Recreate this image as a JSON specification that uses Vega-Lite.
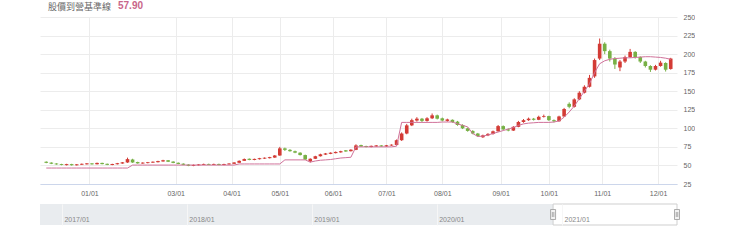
{
"$schema":"https://vega.github.io/schema/vega-lite/v6.json",
"padding":{"left":40,"right":0,"top":1,"bottom":0},
"background":"white",
"config":{"view":{"stroke":null},"font":"Liberation Sans","axis":{"labelOverlap":false,"labelSeparation":0},"axisY":{"labelOverlap":false}},
"title":{"text":"股價到營基準線","anchor":"start","dx":8,"dy":11,"fontSize":9,"font":"Noto Sans CJK TC","fontWeight":"normal","color":"#666666","offset":0},
"spacing":7,
"vconcat":[
{
"width":637,"height":167,
"title":{"text":"57.90","anchor":"start","dx":78,"offset":2,"fontSize":10,"fontWeight":"bold","color":"#c9668a","font":"Liberation Sans"},
"data":{"values":[
{"d":1,"o":55,"h":55.5,"l":53,"c":53.5,"b":46.5},
{"d":3,"o":53.8,"h":54.2,"l":51.8,"c":52.3,"b":46.5},
{"d":5,"o":52.6,"h":53,"l":51,"c":51.4,"b":46.5},
{"d":7,"o":51.8,"h":52.2,"l":50.2,"c":50.6,"b":46.5},
{"d":9,"o":50.4,"h":52.2,"l":50,"c":51.8,"b":46.5},
{"d":11,"o":51.8,"h":52.2,"l":49.8,"c":50.3,"b":46.5},
{"d":13,"o":50.2,"h":51.9,"l":49.9,"c":51.5,"b":46.5},
{"d":15,"o":51,"h":52.6,"l":50.6,"c":52.2,"b":46.5},
{"d":17,"o":51.5,"h":53.2,"l":51.2,"c":52.8,"b":46.5},
{"d":19,"o":52.8,"h":53.2,"l":51.1,"c":51.5,"b":46.5},
{"d":21,"o":51.6,"h":53.8,"l":51.3,"c":53.4,"b":46.5},
{"d":23,"o":53.4,"h":53.7,"l":51.5,"c":51.8,"b":46.5},
{"d":25,"o":52.2,"h":52.5,"l":50.4,"c":50.8,"b":46.5},
{"d":27,"o":50.6,"h":52.3,"l":50.3,"c":51.9,"b":46.5},
{"d":29,"o":51.6,"h":53.4,"l":51.3,"c":53,"b":46.5},
{"d":31,"o":52.6,"h":54.6,"l":52.3,"c":54.2,"b":46.5},
{"d":33,"o":54,"h":60.5,"l":53.5,"c":58.5,"b":46.5},
{"d":35,"o":58,"h":59,"l":53.5,"c":54,"b":50.5},
{"d":37,"o":54.6,"h":55,"l":52.4,"c":52.8,"b":50.5},
{"d":39,"o":52.6,"h":54.2,"l":52.3,"c":53.8,"b":50.5},
{"d":41,"o":53.2,"h":54.7,"l":52.8,"c":54.3,"b":50.5},
{"d":43,"o":53.8,"h":55.4,"l":53.4,"c":55,"b":50.5},
{"d":45,"o":54.4,"h":56.3,"l":54,"c":55.9,"b":50.5},
{"d":47,"o":55.4,"h":57.6,"l":55,"c":57,"b":50.5},
{"d":49,"o":57,"h":57.3,"l":54.6,"c":55,"b":50.5},
{"d":51,"o":55.2,"h":55.6,"l":53,"c":53.4,"b":50.5},
{"d":53,"o":53.6,"h":54,"l":51.6,"c":52,"b":50.5},
{"d":55,"o":52.4,"h":52.8,"l":50.4,"c":50.8,"b":50.5},
{"d":57,"o":51.2,"h":51.6,"l":49,"c":49.4,"b":50.5},
{"d":59,"o":49.4,"h":51.2,"l":49,"c":50.8,"b":50.5},
{"d":61,"o":50.2,"h":51.8,"l":49.9,"c":51.4,"b":50.5},
{"d":63,"o":50.8,"h":52.4,"l":50.5,"c":52,"b":50.5},
{"d":65,"o":52,"h":52.4,"l":50.5,"c":50.8,"b":50.5},
{"d":67,"o":50.8,"h":52.4,"l":50.5,"c":52,"b":50.5},
{"d":69,"o":52,"h":52.4,"l":50.3,"c":50.6,"b":50.5},
{"d":71,"o":50.6,"h":52.3,"l":50.3,"c":51.9,"b":50.5},
{"d":73,"o":51.4,"h":53,"l":51.1,"c":52.6,"b":50.5},
{"d":75,"o":52.2,"h":54.4,"l":52,"c":54,"b":50.5},
{"d":77,"o":53.6,"h":56.8,"l":53.4,"c":56.2,"b":52},
{"d":79,"o":56.2,"h":59.4,"l":56,"c":58.6,"b":52},
{"d":81,"o":59,"h":59.4,"l":57,"c":57.4,"b":52},
{"d":83,"o":57.4,"h":59.2,"l":57,"c":58.8,"b":52},
{"d":85,"o":58.4,"h":60.2,"l":58,"c":59.8,"b":52},
{"d":87,"o":59.2,"h":60.8,"l":58.8,"c":60.4,"b":52},
{"d":89,"o":59.8,"h":61.6,"l":59.4,"c":61.2,"b":52},
{"d":91,"o":60.6,"h":64,"l":60.2,"c":63.4,"b":52},
{"d":93,"o":63.4,"h":75,"l":63,"c":73,"b":52},
{"d":95,"o":73,"h":74,"l":69.5,"c":71,"b":57.5},
{"d":97,"o":71,"h":72,"l":68.5,"c":69.2,"b":57.5},
{"d":99,"o":69.2,"h":70,"l":66.5,"c":67.2,"b":57.5},
{"d":101,"o":67.2,"h":67.8,"l":63.4,"c":64,"b":57.5},
{"d":103,"o":64,"h":64.6,"l":57.4,"c":58,"b":57.5},
{"d":105,"o":55.5,"h":59.6,"l":54,"c":59,"b":54.5},
{"d":107,"o":59,"h":63,"l":58.6,"c":62.4,"b":56},
{"d":109,"o":62.4,"h":65.8,"l":62,"c":65,"b":57},
{"d":111,"o":64.6,"h":66.8,"l":64.2,"c":66.2,"b":57.5},
{"d":113,"o":65.6,"h":67.6,"l":65.2,"c":67.2,"b":58},
{"d":115,"o":66.6,"h":68.8,"l":66.2,"c":68.2,"b":59},
{"d":117,"o":67.6,"h":69.8,"l":67.2,"c":69.2,"b":60},
{"d":119,"o":70.4,"h":70.8,"l":68.4,"c":68.8,"b":60.5},
{"d":121,"o":69.2,"h":71.8,"l":68.8,"c":71.2,"b":61},
{"d":123,"o":71,"h":78.5,"l":70.6,"c":77,"b":75},
{"d":125,"o":77.5,"h":78,"l":75.2,"c":75.5,"b":75},
{"d":127,"o":76.2,"h":76.6,"l":74.4,"c":74.8,"b":75},
{"d":129,"o":74.8,"h":76.8,"l":74.4,"c":76.4,"b":75},
{"d":131,"o":75.6,"h":77.4,"l":75.2,"c":77,"b":75},
{"d":133,"o":77,"h":77.4,"l":75.2,"c":75.6,"b":75},
{"d":135,"o":75.6,"h":77.6,"l":75.2,"c":77.2,"b":75},
{"d":137,"o":76.8,"h":78.4,"l":76.4,"c":78,"b":75},
{"d":139,"o":77.6,"h":85,"l":77,"c":84,"b":76},
{"d":141,"o":84,"h":94.5,"l":83,"c":93,"b":108},
{"d":143,"o":93,"h":106,"l":92,"c":104,"b":108},
{"d":145,"o":104,"h":113,"l":103,"c":111,"b":108},
{"d":147,"o":110.5,"h":115,"l":109,"c":113,"b":108},
{"d":149,"o":113,"h":114,"l":108.5,"c":110,"b":108},
{"d":151,"o":110,"h":115,"l":109,"c":113.5,"b":108},
{"d":153,"o":113.5,"h":120,"l":112.5,"c":117.5,"b":108},
{"d":155,"o":117.5,"h":118.5,"l":112,"c":113,"b":108},
{"d":157,"o":113.5,"h":114.5,"l":109.5,"c":110.5,"b":108.5},
{"d":159,"o":110,"h":113,"l":109,"c":112,"b":108.5},
{"d":161,"o":111.5,"h":112,"l":107.5,"c":108.5,"b":108.5},
{"d":163,"o":109,"h":110,"l":103.5,"c":104.5,"b":106},
{"d":165,"o":104.5,"h":105.5,"l":99,"c":100,"b":104},
{"d":167,"o":100,"h":101,"l":95.5,"c":96.5,"b":102},
{"d":169,"o":96.5,"h":97.5,"l":92,"c":93,"b":93},
{"d":171,"o":93,"h":93.8,"l":88.5,"c":89.5,"b":89},
{"d":173,"o":88,"h":91.5,"l":87,"c":90.5,"b":89.5},
{"d":175,"o":90.5,"h":93.5,"l":89.5,"c":92.5,"b":91},
{"d":177,"o":92.5,"h":97,"l":91.5,"c":96,"b":93},
{"d":179,"o":96,"h":104.5,"l":95.5,"c":103,"b":95},
{"d":181,"o":103,"h":104,"l":97.5,"c":98.5,"b":97},
{"d":183,"o":98.5,"h":100,"l":96,"c":97,"b":99},
{"d":185,"o":97,"h":103,"l":96.5,"c":102,"b":101},
{"d":187,"o":102,"h":110,"l":101.5,"c":108.5,"b":104},
{"d":189,"o":108.5,"h":112.5,"l":107.5,"c":111,"b":106},
{"d":191,"o":111,"h":114.5,"l":110,"c":113,"b":107},
{"d":193,"o":113,"h":114,"l":110.5,"c":111.5,"b":107.5},
{"d":195,"o":111.5,"h":117,"l":111,"c":115.5,"b":108},
{"d":197,"o":115.5,"h":118.5,"l":114.5,"c":116.5,"b":108},
{"d":199,"o":116.5,"h":117,"l":110,"c":111,"b":108},
{"d":201,"o":111,"h":112,"l":108,"c":109.5,"b":108.5},
{"d":203,"o":109.5,"h":117,"l":109,"c":116,"b":110},
{"d":205,"o":116,"h":127.5,"l":115.5,"c":126,"b":115},
{"d":207,"o":133,"h":135,"l":127,"c":129,"b":122},
{"d":209,"o":129,"h":140.5,"l":128,"c":139,"b":130},
{"d":211,"o":139,"h":150,"l":138,"c":148,"b":140},
{"d":213,"o":148,"h":158,"l":147,"c":156,"b":150},
{"d":215,"o":156,"h":172,"l":155,"c":168,"b":160},
{"d":217,"o":170,"h":194,"l":168,"c":192,"b":175},
{"d":219,"o":194,"h":221,"l":192,"c":214,"b":187},
{"d":221,"o":214,"h":216,"l":200,"c":204,"b":191},
{"d":223,"o":204,"h":206,"l":190,"c":194,"b":193},
{"d":225,"o":194,"h":196,"l":180,"c":186,"b":194},
{"d":227,"o":182,"h":192,"l":177,"c":190,"b":194.5},
{"d":229,"o":190,"h":198,"l":188,"c":196,"b":195},
{"d":231,"o":196,"h":207,"l":195,"c":203,"b":195},
{"d":233,"o":203,"h":204,"l":194,"c":196,"b":195.5},
{"d":235,"o":196,"h":197,"l":188,"c":190,"b":196},
{"d":237,"o":190,"h":191,"l":182,"c":184,"b":196.5},
{"d":239,"o":184,"h":185,"l":176,"c":179,"b":196.5},
{"d":241,"o":179,"h":185.5,"l":178,"c":184,"b":196},
{"d":243,"o":184,"h":191,"l":183,"c":188.5,"b":195.5},
{"d":245,"o":188,"h":189,"l":176.5,"c":179,"b":194.5},
{"d":247,"o":180,"h":195,"l":179,"c":194,"b":193}
]},
"encoding":{"x":{"field":"d","type":"quantitative","scale":{"domain":[0.5,247.5],"nice":false,"zero":false},
"axis":{"values":[18,52,74,93,114,135,157,180,199,220,242],
"labelExpr":"['01/01','03/01','04/01','05/01','06/01','07/01','08/01','09/01','10/01','11/01','12/01'][indexof([18,52,74,93,114,135,157,180,199,220,242], datum.value)]",
"grid":true,"gridColor":"#ececec","domainColor":"#ccd6eb","ticks":false,"tickSize":0,"labelPadding":5,"labelFontSize":7,"labelColor":"#666666","title":null,"labelFlush":false,"labelOverlap":false}},
"y":{"field":"l","type":"quantitative","scale":{"domain":[25,250],"nice":false,"zero":false},
"axis":{"orient":"right","values":[25,50,75,100,125,150,175,200,225,250],"tickCount":10,"grid":true,"gridColor":"#ececec","domain":false,"ticks":false,"tickSize":0,"labelPadding":6,"labelFontSize":7,"labelColor":"#666666","title":null,"labelAlign":"left","labelOverlap":false,"labelFlush":false,"labelSeparation":0}}},
"layer":[
{"mark":{"type":"rule","strokeWidth":1},
"encoding":{"y2":{"field":"h"},
"color":{"condition":{"test":"datum.c >= datum.o","value":"#d33b35"},"value":"#77b045"}}},
{"mark":{"type":"bar","width":3.6},
"encoding":{"y":{"field":"o","type":"quantitative"},"y2":{"field":"c"},
"color":{"condition":{"test":"datum.c >= datum.o","value":"#d33b35"},"value":"#77b045"}}},
{"mark":{"type":"line","color":"#d0729a","strokeWidth":1},
"encoding":{"y":{"field":"b","type":"quantitative"}}}
]
},
{
"width":637,"height":21,
"layer":[
{"data":{"values":[{"from":"2016-10-29","to":"2020-12-06"}]},
"mark":{"type":"rect","color":"#e9ecef"},
"encoding":{"x":{"field":"from","type":"temporal","scale":{"domain":["2016-10-29","2021-12-03"]},
"axis":{"values":[{"year":2017,"month":1,"date":1},{"year":2018,"month":1,"date":1},{"year":2019,"month":1,"date":1},{"year":2020,"month":1,"date":1},{"year":2021,"month":1,"date":1}],
"format":"%Y/%m","grid":true,"gridColor":"#f6f6f6","domain":false,"ticks":false,"tickSize":0,"labelAlign":"left","labelOffset":2,"labelPadding":-10,"labelBaseline":"top","labelFontSize":7,"labelColor":"#888888","title":null,"labelFlush":false,"zindex":1}},
"x2":{"field":"to"}}},
{"data":{"values":[{"from":"2020-12-06","to":"2021-12-03"}]},
"mark":{"type":"rect","fillOpacity":0,"stroke":"#cfcfcf","strokeWidth":1},
"encoding":{"x":{"field":"from","type":"temporal"},"x2":{"field":"to"}}},
{"data":{"values":[{"at":"2020-12-06"},{"at":"2021-12-03"}]},
"mark":{"type":"point","shape":"M-0.5,-1L0.5,-1L0.5,1L-0.5,1Z M-0.15,-0.5L-0.15,0.5 M0.15,-0.5L0.15,0.5","size":100,"filled":false,"fill":"#f2f2f2","stroke":"#999999","strokeWidth":0.8,"opacity":1},
"encoding":{"x":{"field":"at","type":"temporal"}}}
]
}
]
}
